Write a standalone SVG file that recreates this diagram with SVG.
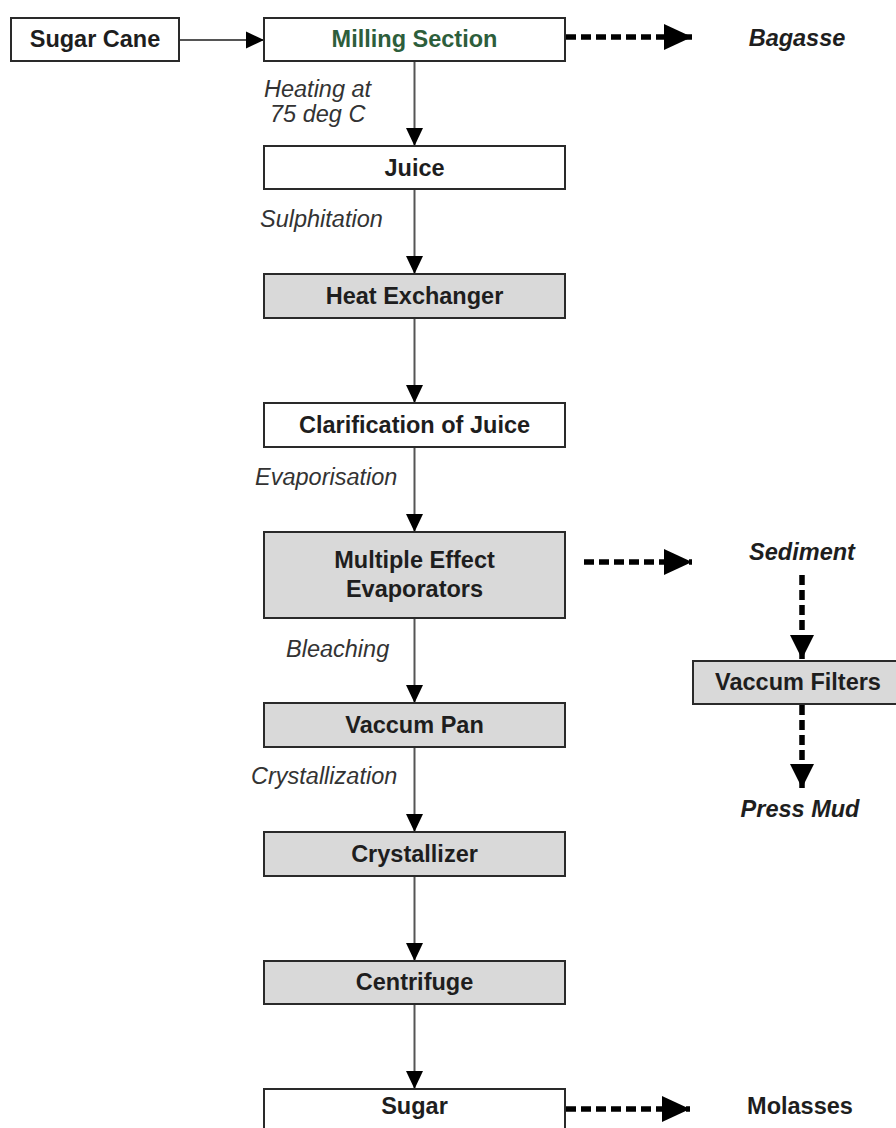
<svg xmlns="http://www.w3.org/2000/svg" width="896" height="1128" viewBox="0 0 896 1128">
<style>
.box{stroke:#2a2a2a;stroke-width:2}
.w{fill:#ffffff}
.g{fill:#d9d9d9}
.t{font-family:"Liberation Sans",Arial,sans-serif;font-weight:bold;font-size:23.5px;fill:#1e1e1e;text-anchor:middle}
.l{font-family:"Liberation Sans",Arial,sans-serif;font-style:italic;font-size:23.5px;fill:#333333}
.o{font-family:"Liberation Sans",Arial,sans-serif;font-style:italic;font-weight:bold;font-size:23.5px;fill:#1e1e1e;text-anchor:middle}
.s{stroke:#555555;stroke-width:2;fill:none}
.d{stroke:#000000;stroke-width:5.5;stroke-dasharray:10 5;fill:none}
</style>
<defs>
<marker id="ah" markerUnits="userSpaceOnUse" markerWidth="18" markerHeight="18" refX="18" refY="8.5" orient="auto" viewBox="0 0 18 17">
<path d="M0,0 L18,8.5 L0,17 Z" fill="#000"/>
</marker>
<marker id="dh" markerUnits="userSpaceOnUse" markerWidth="28" markerHeight="26" refX="28" refY="13" orient="auto" viewBox="0 0 28 26">
<path d="M0,0 L28,13 L0,26 Z" fill="#000"/>
</marker>
<marker id="dv" markerUnits="userSpaceOnUse" markerWidth="24" markerHeight="24" refX="24" refY="12" orient="auto" viewBox="0 0 24 24">
<path d="M0,0 L24,12 L0,24 Z" fill="#000"/>
</marker>
</defs>
<rect width="896" height="1128" fill="#ffffff"/>

<g id="connectors">
<line class="s" x1="179" y1="40" x2="264" y2="40" marker-end="url(#ah)"/>
<line class="s" x1="414.5" y1="61" x2="414.5" y2="146" marker-end="url(#ah)"/>
<line class="s" x1="414.5" y1="189" x2="414.5" y2="274" marker-end="url(#ah)"/>
<line class="s" x1="414.5" y1="318" x2="414.5" y2="403" marker-end="url(#ah)"/>
<line class="s" x1="414.5" y1="447" x2="414.5" y2="532" marker-end="url(#ah)"/>
<line class="s" x1="414.5" y1="618" x2="414.5" y2="703" marker-end="url(#ah)"/>
<line class="s" x1="414.5" y1="747" x2="414.5" y2="832" marker-end="url(#ah)"/>
<line class="s" x1="414.5" y1="876" x2="414.5" y2="961" marker-end="url(#ah)"/>
<line class="s" x1="414.5" y1="1004" x2="414.5" y2="1089" marker-end="url(#ah)"/>
<line class="d" x1="566" y1="37" x2="692" y2="37" marker-end="url(#dh)"/>
<line class="d" x1="584" y1="562" x2="692" y2="562" marker-end="url(#dh)"/>
<line class="d" x1="566" y1="1109" x2="690" y2="1109" marker-end="url(#dh)"/>
<line class="d" x1="802" y1="575" x2="802" y2="659" marker-end="url(#dv)"/>
<line class="d" x1="802" y1="705" x2="802" y2="788" marker-end="url(#dv)"/>
<text class="l" x="264" y="97">Heating at</text>
<text class="l" x="270" y="122">75 deg C</text>
<text class="l" x="260" y="227">Sulphitation</text>
<text class="l" x="255" y="485">Evaporisation</text>
<text class="l" x="286" y="657">Bleaching</text>
<text class="l" x="251" y="784">Crystallization</text>
</g>

<g id="sugar-cane"><rect class="box w" x="11" y="18" width="168" height="43"/><text class="t" x="95" y="47">Sugar Cane</text></g>
<g id="milling-section"><rect class="box w" x="264" y="18" width="301" height="43"/><text class="t" x="414.5" y="47" style="fill:#2d5e3b">Milling Section</text></g>
<g id="bagasse"><text class="o" x="797" y="46">Bagasse</text></g>
<g id="juice"><rect class="box w" x="264" y="146" width="301" height="43"/><text class="t" x="414.5" y="176">Juice</text></g>
<g id="heat-exchanger"><rect class="box g" x="264" y="274" width="301" height="44"/><text class="t" x="414.5" y="304">Heat Exchanger</text></g>
<g id="clarification"><rect class="box w" x="264" y="403" width="301" height="44"/><text class="t" x="414.5" y="433">Clarification of Juice</text></g>
<g id="multiple-effect-evaporators"><rect class="box g" x="264" y="532" width="301" height="86"/><text class="t" x="414.5" y="568">Multiple Effect</text><text class="t" x="414.5" y="597">Evaporators</text></g>
<g id="sediment"><text class="o" x="802" y="560">Sediment</text></g>
<g id="vaccum-filters"><rect class="box g" x="693" y="661" width="205" height="43"/><text class="t" x="798" y="690">Vaccum Filters</text></g>
<g id="press-mud"><text class="o" x="800" y="817">Press Mud</text></g>
<g id="vaccum-pan"><rect class="box g" x="264" y="703" width="301" height="44"/><text class="t" x="414.5" y="733">Vaccum Pan</text></g>
<g id="crystallizer"><rect class="box g" x="264" y="832" width="301" height="44"/><text class="t" x="414.5" y="862">Crystallizer</text></g>
<g id="centrifuge"><rect class="box g" x="264" y="961" width="301" height="43"/><text class="t" x="414.5" y="990">Centrifuge</text></g>
<g id="sugar"><rect class="box w" x="264" y="1089" width="301" height="50"/><text class="t" x="414.5" y="1114">Sugar</text></g>
<g id="molasses"><text class="t" x="800" y="1114">Molasses</text></g>
</svg>
